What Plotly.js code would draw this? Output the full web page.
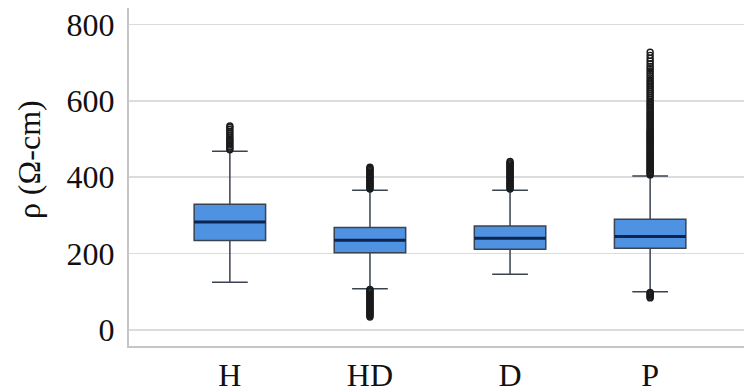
<!DOCTYPE html>
<html>
<head>
<meta charset="utf-8">
<script src="https://cdn.plot.ly/plotly-3.0.1.min.js"></script>
<style>html,body{margin:0;padding:0;background:#fff;}#chart{width:744px;height:392px;}</style>
</head>
<body>
<div id="chart"></div>
<script>
// Categories and box statistics (Ω-cm)
const categories = ["H", "HD", "D", "P"];
const lowerFence = [125, 108, 146, 100];
const q1 = [234, 202, 211, 214];
const medians = [283, 235, 240, 245];
const q3 = [329, 268, 272, 290];
const upperFence = [468, 366, 366, 403];
const yTitle = "ρ (Ω-cm)";

// Outlier values per group
const outliersH = [472, 476, 480, 484, 488, 492, 496, 500, 505, 510, 515, 520, 525, 530, 534];
const outliersHD = [369, 372, 375, 378, 381, 384, 387, 390, 393, 396, 399, 402, 405, 408, 411, 414, 417, 420, 423, 426,
  106, 103, 100, 97, 94, 91, 88, 85, 82, 79, 76, 73, 70, 67, 64, 61, 58, 55, 52, 49, 46, 43, 40, 37, 34];
const outliersD = [369, 372, 375, 378, 381, 384, 387, 390, 393, 396, 399, 402, 405, 408, 411, 414, 417, 420, 423, 426, 429, 432, 435, 438, 441];
const outliersP = [98, 95, 92, 89, 86, 84,
  406, 409, 412, 415, 418, 421, 424, 427, 430, 433, 436, 439, 442, 445, 448, 451, 454, 457, 460, 463, 466, 469, 472, 475,
  478, 481, 484, 487, 490, 493, 496, 499, 502, 505, 508, 511, 514, 517, 520, 523,
  527, 531, 535, 539, 543, 547, 551, 555, 559, 563, 567, 571, 575, 579, 583, 587, 591, 595, 599,
  604, 609, 614, 619, 624, 629, 634, 639, 644, 649, 654, 660, 666, 672, 678, 684, 690, 697, 704, 711, 719, 727];

const outlierGroups = [outliersH, outliersHD, outliersD, outliersP];
const outX = [], outY = [];
outlierGroups.forEach((g, i) => g.forEach(v => { outX.push(categories[i]); outY.push(v); }));

const serif = "'Liberation Serif', 'Times New Roman', serif";

const traces = [
  {
    type: "box",
    x: categories,
    q1: q1, median: medians, q3: q3,
    lowerfence: lowerFence, upperfence: upperFence,
    boxpoints: false,
    width: 0.51,
    whiskerwidth: 0.5,
    fillcolor: "#5092e2",
    line: {color: "#3a4352", width: 1.5},
    hoverinfo: "skip",
    showlegend: false
  },
  {
    type: "box",
    x: categories,
    q1: medians, median: medians, q3: medians,
    lowerfence: medians, upperfence: medians,
    boxpoints: false,
    width: 0.51,
    whiskerwidth: 0,
    fillcolor: "rgba(0,0,0,0)",
    line: {color: "#0c2550", width: 3},
    hoverinfo: "skip",
    showlegend: false
  },
  {
    type: "scatter",
    mode: "markers",
    x: outX, y: outY,
    marker: {symbol: "circle-open", size: 6, color: "#1a1a1a", line: {width: 1.4, color: "#1a1a1a"}},
    hoverinfo: "skip",
    showlegend: false
  }
];

const layout = {
  width: 744, height: 392,
  margin: {l: 129, r: 0, t: 8, b: 46},
  paper_bgcolor: "#fff", plot_bgcolor: "#fff",
  showlegend: false,
  boxmode: "overlay",
  font: {family: serif, color: "#111", size: 32},
  xaxis: {
    type: "category",
    range: [-0.72, 3.67],
    showgrid: false, zeroline: false,
    showline: true, linecolor: "#c6c6c6", linewidth: 2,
    ticks: "",
    tickfont: {family: serif, size: 32, color: "#111"}
  },
  yaxis: {
    range: [-42, 843],
    tickvals: [0, 200, 400, 600, 800],
    showgrid: true, gridcolor: "#dcdcdc", gridwidth: 1.5,
    zeroline: false,
    showline: true, linecolor: "#c6c6c6", linewidth: 2,
    ticks: "",
    ticklabelstandoff: 6,
    tickfont: {family: serif, size: 32, color: "#111"}
  },
  annotations: [{
    text: yTitle,
    xref: "paper", yref: "paper",
    x: -0.1626, y: 0.55,
    xanchor: "center", yanchor: "middle",
    textangle: -90,
    showarrow: false,
    font: {family: serif, size: 32, color: "#111"}
  }]
};

Plotly.newPlot("chart", traces, layout, {staticPlot: true, displayModeBar: false});
</script>
</body>
</html>
